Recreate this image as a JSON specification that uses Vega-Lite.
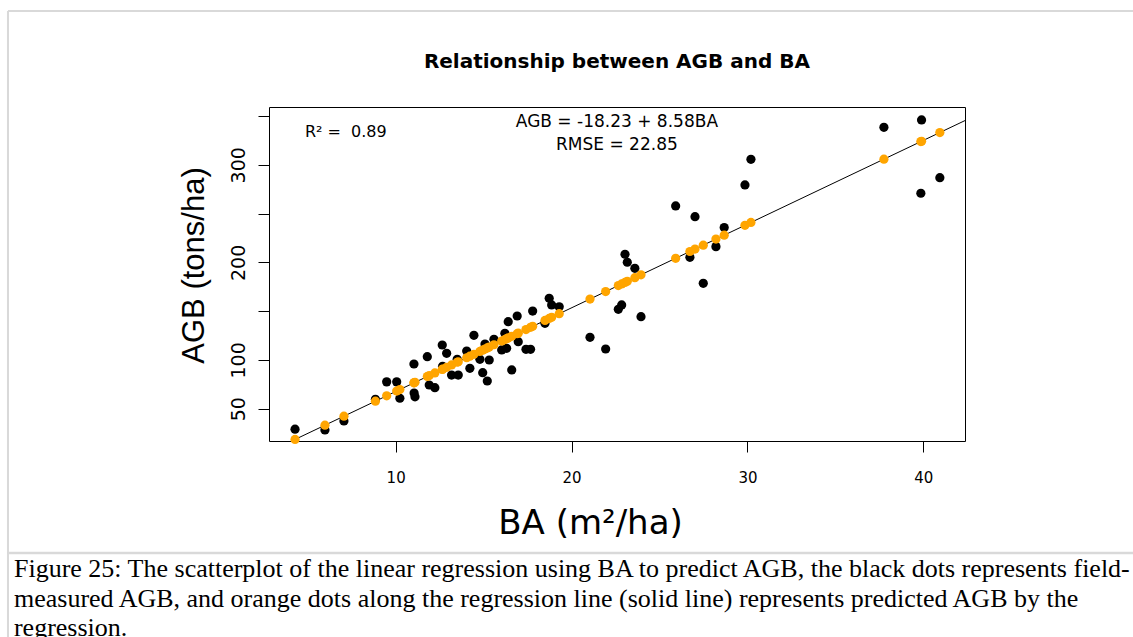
{
  "$schema": "https://vega.github.io/schema/vega-lite/v6.json",
  "autosize": {"type": "none"},
  "width": 696,
  "height": 334,
  "padding": {"left": 269, "top": 107, "right": 168, "bottom": 196},
  "background": "white",
  "datasets": {
    "plots": [
      {"BA": 4.28, "AGB": 29.0, "pred": 18.49},
      {"BA": 5.98, "AGB": 28.2, "pred": 33.08},
      {"BA": 7.06, "AGB": 37.5, "pred": 42.34},
      {"BA": 8.85, "AGB": 59.6, "pred": 57.70},
      {"BA": 9.49, "AGB": 77.5, "pred": 63.19},
      {"BA": 10.06, "AGB": 77.5, "pred": 68.08},
      {"BA": 10.24, "AGB": 60.7, "pred": 69.63},
      {"BA": 11.05, "AGB": 66.0, "pred": 76.58},
      {"BA": 11.1, "AGB": 62.2, "pred": 77.01},
      {"BA": 11.04, "AGB": 95.8, "pred": 76.49},
      {"BA": 11.8, "AGB": 103.3, "pred": 83.01},
      {"BA": 11.91, "AGB": 74.3, "pred": 83.96},
      {"BA": 12.23, "AGB": 71.5, "pred": 86.70},
      {"BA": 12.65, "AGB": 115.3, "pred": 90.31},
      {"BA": 12.9, "AGB": 106.8, "pred": 92.45},
      {"BA": 12.67, "AGB": 93.5, "pred": 90.48},
      {"BA": 13.18, "AGB": 84.5, "pred": 94.85},
      {"BA": 13.56, "AGB": 84.5, "pred": 98.11},
      {"BA": 13.5, "AGB": 100.6, "pred": 97.60},
      {"BA": 14.04, "AGB": 109.1, "pred": 102.23},
      {"BA": 14.22, "AGB": 91.4, "pred": 103.78},
      {"BA": 14.45, "AGB": 125.2, "pred": 105.75},
      {"BA": 14.79, "AGB": 100.6, "pred": 108.67},
      {"BA": 14.95, "AGB": 86.9, "pred": 110.04},
      {"BA": 15.21, "AGB": 78.4, "pred": 112.27},
      {"BA": 15.08, "AGB": 116.3, "pred": 111.16},
      {"BA": 15.32, "AGB": 99.9, "pred": 113.22},
      {"BA": 15.59, "AGB": 121.1, "pred": 115.53},
      {"BA": 16.03, "AGB": 110.2, "pred": 119.31},
      {"BA": 16.31, "AGB": 111.9, "pred": 121.71},
      {"BA": 16.21, "AGB": 127.3, "pred": 120.85},
      {"BA": 16.6, "AGB": 89.7, "pred": 124.20},
      {"BA": 16.4, "AGB": 139.2, "pred": 122.48},
      {"BA": 16.91, "AGB": 145.0, "pred": 126.86},
      {"BA": 16.97, "AGB": 118.7, "pred": 127.37},
      {"BA": 17.41, "AGB": 110.9, "pred": 131.15},
      {"BA": 17.67, "AGB": 110.9, "pred": 133.38},
      {"BA": 17.79, "AGB": 150.1, "pred": 134.41},
      {"BA": 18.73, "AGB": 163.2, "pred": 142.47},
      {"BA": 18.87, "AGB": 156.3, "pred": 143.67},
      {"BA": 19.3, "AGB": 154.5, "pred": 147.36},
      {"BA": 18.49, "AGB": 137.5, "pred": 140.41},
      {"BA": 21.05, "AGB": 123.2, "pred": 162.38},
      {"BA": 21.94, "AGB": 111.2, "pred": 170.02},
      {"BA": 22.66, "AGB": 151.9, "pred": 176.19},
      {"BA": 22.85, "AGB": 156.3, "pred": 177.82},
      {"BA": 23.04, "AGB": 208.3, "pred": 179.45},
      {"BA": 23.17, "AGB": 200.1, "pred": 180.57},
      {"BA": 23.6, "AGB": 193.9, "pred": 184.26},
      {"BA": 23.95, "AGB": 144.3, "pred": 187.26},
      {"BA": 25.92, "AGB": 257.8, "pred": 204.16},
      {"BA": 26.73, "AGB": 205.2, "pred": 211.11},
      {"BA": 27.02, "AGB": 246.8, "pred": 213.60},
      {"BA": 27.49, "AGB": 178.5, "pred": 217.63},
      {"BA": 28.21, "AGB": 216.1, "pred": 223.81},
      {"BA": 28.68, "AGB": 235.6, "pred": 227.84},
      {"BA": 29.86, "AGB": 279.3, "pred": 237.97},
      {"BA": 30.2, "AGB": 305.6, "pred": 240.89},
      {"BA": 37.76, "AGB": 338.4, "pred": 305.75},
      {"BA": 39.9, "AGB": 345.9, "pred": 324.11},
      {"BA": 39.86, "AGB": 270.8, "pred": 323.77},
      {"BA": 40.94, "AGB": 286.8, "pred": 333.04}
    ],
    "fit": [
      {"BA": 2.0, "pred": -1.07},
      {"BA": 43.0, "pred": 350.71}
    ]
  },
  "layer": [
    {
      "data": {"values": [{}]},
      "mark": {"type": "rule", "color": "#d9d9d9", "strokeWidth": 2},
      "encoding": {
        "x": {"datum": -12.04, "type": "quantitative"},
        "x2": {"datum": 53},
        "y": {"datum": 457.6, "type": "quantitative"}
      }
    },
    {
      "data": {"values": [{}]},
      "mark": {"type": "rule", "color": "#d9d9d9", "strokeWidth": 2},
      "encoding": {
        "x": {"datum": -12.04, "type": "quantitative"},
        "y": {"datum": 457.6, "type": "quantitative"},
        "y2": {"datum": -200}
      }
    },
    {
      "data": {"values": [{}]},
      "mark": {"type": "rule", "color": "#d9d9d9", "strokeWidth": 2.5},
      "encoding": {
        "x": {"datum": -12.04, "type": "quantitative"},
        "x2": {"datum": 53},
        "y": {"datum": -97.9, "type": "quantitative"}
      }
    },
    {
      "data": {"name": "fit"},
      "mark": {"type": "line", "color": "black", "strokeWidth": 1, "clip": true},
      "encoding": {
        "x": {"field": "BA", "type": "quantitative", "title": "BA (m²/ha)"},
        "y": {"field": "pred", "type": "quantitative", "title": "AGB (tons/ha)"}
      }
    },
    {
      "data": {"name": "plots"},
      "mark": {"type": "circle", "color": "black", "opacity": 1, "size": 85},
      "encoding": {
        "x": {
          "field": "BA", "type": "quantitative", "title": "BA (m²/ha)",
          "scale": {"domain": [2.8, 42.37], "nice": false, "zero": false},
          "axis": {"values": [10, 20, 30, 40], "grid": false}
        },
        "y": {
          "field": "AGB", "type": "quantitative", "title": "AGB (tons/ha)",
          "scale": {"domain": [16.9, 359.2], "nice": false, "zero": false},
          "axis": {"values": [50, 100, 150, 200, 250, 300, 350], "grid": false,
                   "labelExpr": "datum.value == 150 || datum.value == 250 || datum.value == 350 ? '' : datum.label"}
        }
      }
    },
    {
      "data": {"name": "plots"},
      "mark": {"type": "circle", "color": "#FFA500", "opacity": 1, "size": 85},
      "encoding": {
        "x": {"field": "BA", "type": "quantitative", "title": "BA (m²/ha)"},
        "y": {"field": "pred", "type": "quantitative", "title": "AGB (tons/ha)"}
      }
    },
    {
      "data": {"values": [{}]},
      "mark": {"type": "text", "text": "Relationship between AGB and BA", "font": "DejaVu Sans", "fontWeight": "bold", "fontSize": 20, "align": "center", "baseline": "middle", "color": "black"},
      "encoding": {
        "x": {"datum": 22.58, "type": "quantitative"},
        "y": {"datum": 405.3, "type": "quantitative"}
      }
    },
    {
      "data": {"values": [{}]},
      "mark": {"type": "text", "text": "R² = \u00a00.89", "font": "DejaVu Sans", "fontSize": 16, "align": "left", "baseline": "middle", "color": "black"},
      "encoding": {
        "x": {"datum": 4.84, "type": "quantitative"},
        "y": {"datum": 333.6, "type": "quantitative"}
      }
    },
    {
      "data": {"values": [{}]},
      "mark": {"type": "text", "text": "AGB = -18.23 + 8.58BA", "font": "DejaVu Sans", "fontSize": 17, "align": "center", "baseline": "middle", "color": "black"},
      "encoding": {
        "x": {"datum": 22.58, "type": "quantitative"},
        "y": {"datum": 343.85, "type": "quantitative"}
      }
    },
    {
      "data": {"values": [{}]},
      "mark": {"type": "text", "text": "RMSE = 22.85", "font": "DejaVu Sans", "fontSize": 17, "align": "center", "baseline": "middle", "color": "black"},
      "encoding": {
        "x": {"datum": 22.58, "type": "quantitative"},
        "y": {"datum": 320.3, "type": "quantitative"}
      }
    },
    {
      "data": {"values": [{}]},
      "mark": {"type": "text", "text": "Figure 25: The scatterplot of the linear regression using BA to predict AGB, the black dots represents field-", "font": "Liberation Serif", "fontSize": 26, "align": "left", "baseline": "alphabetic", "color": "black"},
      "encoding": {
        "x": {"datum": -11.7, "type": "quantitative"},
        "y": {"datum": -122.5, "type": "quantitative"}
      }
    },
    {
      "data": {"values": [{}]},
      "mark": {"type": "text", "text": "measured AGB, and orange dots along the regression line (solid line) represents predicted AGB by the", "font": "Liberation Serif", "fontSize": 26, "align": "left", "baseline": "alphabetic", "color": "black"},
      "encoding": {
        "x": {"datum": -11.7, "type": "quantitative"},
        "y": {"datum": -153.2, "type": "quantitative"}
      }
    },
    {
      "data": {"values": [{}]},
      "mark": {"type": "text", "text": "regression.", "font": "Liberation Serif", "fontSize": 26, "align": "left", "baseline": "alphabetic", "color": "black"},
      "encoding": {
        "x": {"datum": -11.7, "type": "quantitative"},
        "y": {"datum": -183, "type": "quantitative"}
      }
    }
  ],
  "config": {
    "view": {"stroke": "black", "strokeWidth": 1},
    "axis": {
      "domain": false,
      "ticks": true,
      "tickColor": "black",
      "tickSize": 11,
      "labelFont": "DejaVu Sans",
      "labelColor": "black",
      "titleFontWeight": "normal",
      "titleColor": "black"
    },
    "axisX": {"labelFontSize": 15, "labelPadding": 18, "titleFont": "DejaVu Sans", "titleFontSize": 34, "titlePadding": 21, "titleX": 321},
    "axisY": {"labelFontSize": 19, "labelAngle": -90, "labelAlign": "center", "labelBaseline": "bottom", "labelPadding": 10, "titleFont": "Liberation Sans", "titleFontSize": 31, "titlePadding": 19, "titleY": 158}
  }
}
